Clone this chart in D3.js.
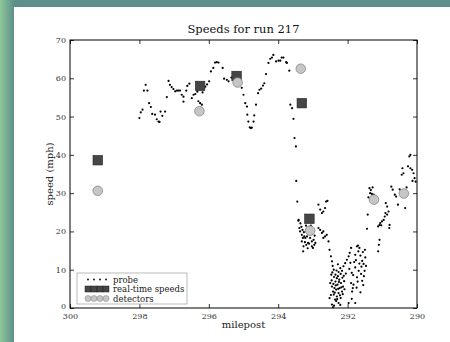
<!DOCTYPE html>
<html>
<head>
<meta charset="utf-8">
<script src="https://cdn.jsdelivr.net/npm/d3@7"></script>
<style>
  body { margin: 0; background: #fff; }
  svg { display: block; }
  text { font-family: "DejaVu Serif", "Liberation Serif", serif; }
</style>
</head>
<body>
<svg id="chart" width="450" height="342"></svg>
<script>
// probe samples: [milepost, speed]
const probe = [
  [298.0, 49.6], [297.96, 51.1], [297.91, 51.8], [297.87, 56.8], [297.82, 58.3], [297.77, 56.8],
  [297.72, 53.5], [297.67, 52.5], [297.63, 50.7], [297.55, 50.5], [297.5, 49.3], [297.45, 48.7],
  [297.42, 48.6], [297.39, 51.3], [297.34, 50.2], [297.26, 51.3], [297.21, 55.1], [297.16, 59.3],
  [297.12, 58.3], [297.07, 57.7], [297.02, 57.2], [296.97, 56.6], [296.92, 56.8], [296.88, 56.8],
  [296.83, 56.8], [296.78, 55.7], [296.73, 55.2], [296.73, 53.9], [296.65, 56.8], [296.62, 58.0],
  [296.56, 58.6], [296.49, 54.8], [296.44, 55.7], [296.39, 55.9], [296.33, 56.5], [296.3, 54.0],
  [296.25, 53.5], [296.2, 53.1], [296.18, 56.3], [296.1, 57.8], [296.05, 58.4],
  [295.99, 59.2], [295.94, 61.8], [295.87, 62.7], [295.82, 64.1], [295.77, 64.2], [295.72, 64.1],
  [295.6, 62.7], [295.56, 59.9], [295.48, 59.6], [295.43, 59.2], [295.35, 60.2], [295.25, 60.5],
  [295.2, 61.5], [295.05, 57.5], [295.0, 55.7], [294.95, 53.5], [294.9, 52.6], [294.89, 50.5],
  [294.86, 48.7], [294.82, 47.2], [294.79, 47.0], [294.76, 47.1], [294.71, 48.7], [294.69, 50.3],
  [294.64, 53.1], [294.58, 56.1], [294.54, 57.0], [294.49, 57.3], [294.44, 58.1], [294.4, 58.7],
  [294.35, 61.1], [294.28, 64.0], [294.23, 65.1], [294.18, 65.4], [294.14, 66.1], [294.06, 64.4],
  [293.99, 64.6], [293.94, 64.6], [293.9, 65.4], [293.85, 65.4], [293.77, 64.2], [293.75, 64.0],
  [293.68, 62.0], [293.65, 53.1], [293.6, 52.2], [293.56, 49.4], [293.53, 44.4], [293.49, 42.2],
  [293.48, 33.2], [293.45, 27.8], [293.42, 22.8], [293.41, 23.0], [293.39, 20.9], [293.37, 20.0],
  [293.32, 19.1], [293.29, 18.3], [293.25, 18.7], [293.22, 18.3], [293.17, 18.7], [293.27, 16.1],
  [293.32, 17.4], [293.08, 18.3], [293.03, 17.4], [292.98, 17.8], [292.96, 16.5], [292.93, 17.0],
  [293.0, 15.7], [293.03, 16.1], [293.14, 17.0], [293.2, 21.5], [293.12, 19.6],
  [293.36, 22.1], [293.33, 21.2], [293.3, 20.4], [293.26, 19.8], [293.23, 17.2], [293.19, 16.5],
  [293.15, 15.6], [293.11, 16.8], [293.06, 21.5], [293.02, 19.4], [292.99, 20.1], [293.28, 14.8],
  [293.18, 20.3], [292.95, 18.9],
  [292.84, 27.0], [292.79, 25.7], [292.74, 24.8], [292.7, 25.2], [292.65, 26.1], [292.62, 27.8],
  [292.58, 28.0], [292.84, 20.9], [292.79, 20.4], [292.74, 19.6], [292.7, 20.0], [292.65, 18.7],
  [292.6, 19.1], [292.7, 18.3], [292.55, 17.4], [292.52, 15.2], [292.48, 13.5], [292.45, 12.2],
  [292.4, 10.0], [292.35, 8.7], [292.31, 7.8], [292.26, 9.4], [292.21, 10.4], [292.16, 9.7],
  [292.12, 10.9], [292.07, 11.7], [292.02, 12.6], [291.97, 13.5], [291.94, 14.4], [291.9, 15.7],
  [291.73, 16.1], [291.69, 14.8], [291.78, 13.9],
  [292.5, 6.5], [292.45, 5.6], [292.42, 4.3], [292.4, 3.5], [292.35, 6.9], [292.33, 4.8],
  [292.29, 6.1], [292.26, 3.9], [292.23, 5.2], [292.19, 6.5], [292.16, 4.3], [292.13, 5.6],
  [292.52, 2.6], [292.45, 0.9], [292.42, 0.2], [292.26, 1.3], [292.38, 5.2], [292.31, 3.0],
  [292.24, 7.4], [292.2, 2.6], [292.36, 2.2], [292.28, 8.3], [292.1, 7.0], [292.47, 8.7],
  [292.48, 3.4], [292.46, 7.2], [292.44, 9.3], [292.41, 6.3], [292.39, 8.1], [292.37, 4.0],
  [292.34, 5.9], [292.32, 9.8], [292.3, 2.3], [292.27, 5.0], [292.25, 6.8], [292.22, 3.3],
  [292.2, 8.9], [292.18, 5.4], [292.15, 7.9], [292.14, 3.6], [292.11, 8.4], [292.09, 4.9],
  [292.33, 1.8], [292.21, 0.8], [292.39, 0.6], [292.28, 11.4], [292.43, 11.0], [292.05, 9.0],
  [291.9, 6.5], [291.87, 4.3], [291.83, 6.1], [291.85, 5.2], [291.97, 1.3], [291.78, 1.3],
  [291.95, 10.2], [291.92, 11.8], [291.88, 9.2], [291.84, 8.6], [291.81, 12.0], [291.76, 12.5],
  [291.74, 5.3], [291.71, 6.9], [291.66, 11.6], [291.61, 8.9], [291.55, 6.0], [291.53, 8.3],
  [291.47, 11.0], [291.5, 15.2], [291.88, 2.4],
  [291.7, 16.3], [291.63, 13.7], [291.58, 12.3], [291.54, 11.5], [291.49, 13.2], [291.51, 9.7],
  [291.58, 7.1], [291.63, 4.1], [291.68, 9.7], [291.73, 8.0], [291.78, 10.6], [291.66, 15.7],
  [291.6, 10.8], [291.56, 14.6],
  [291.12, 14.8], [291.1, 16.5], [291.08, 17.8], [291.44, 20.7], [291.42, 24.4], [291.37, 31.3],
  [291.35, 30.0], [291.3, 29.8], [291.25, 29.6], [291.33, 30.8], [291.28, 31.5], [291.4, 28.9],
  [291.12, 21.3], [291.08, 21.7], [291.06, 22.2],
  [291.03, 21.6], [291.01, 22.6], [290.96, 23.0], [290.93, 23.9], [290.91, 24.8], [290.86, 24.4],
  [290.82, 25.2], [290.79, 21.7], [290.8, 20.9], [290.9, 27.4], [290.86, 26.5], [290.74, 31.7],
  [290.7, 30.9], [290.64, 29.6], [290.6, 29.1], [290.55, 27.0], [290.34, 26.1], [290.44, 34.8],
  [290.39, 35.2], [290.42, 36.5], [290.26, 37.0], [290.19, 36.5], [290.14, 36.1], [290.1, 35.2],
  [290.07, 33.9], [290.04, 33.0], [290.22, 39.6], [290.19, 40.0], [290.13, 33.2], [290.5, 31.0],
  [290.3, 31.5]
];

const rtMile = [299.2, 296.25, 295.2, 293.32, 293.1];
const rtSpeed = [38.6, 58.0, 60.6, 53.5, 23.3];

const detMile = [299.2, 296.27, 295.17, 293.35, 293.08, 291.24, 290.38];
const detSpeed = [30.6, 51.4, 58.9, 62.5, 20.2, 28.3, 29.9];

const xTicks = [300, 298, 296, 294, 292, 290];
const yTicks = [0, 10, 20, 30, 40, 50, 60, 70];
const legendLabels = ['probe', 'real-time speeds', 'detectors'];

const svg = d3.select('#chart');

// window frame
svg.append('rect').attr('width', 450).attr('height', 342).attr('fill', '#5d908b');
const grad = svg.append('defs').append('linearGradient').attr('id', 'side');
grad.append('stop').attr('offset', '0%').attr('stop-color', '#8fc79a');
grad.append('stop').attr('offset', '100%').attr('stop-color', '#5d908b');
svg.append('rect').attr('x', 0).attr('y', 0).attr('width', 14).attr('height', 342).attr('fill', 'url(#side)');
svg.append('rect').attr('x', 14).attr('y', 7).attr('width', 436).attr('height', 335).attr('fill', '#fff');

const mLeft = 70, mRight = 417, mTop = 40, mBottom = 308;
const x = d3.scaleLinear().domain([300, 290]).range([mLeft, mRight]);
const y = d3.scaleLinear().domain([0, 70]).range([mBottom, mTop]);

const g = svg.append('g');

// probe dots
g.selectAll('circle.probe')
  .data(probe)
  .join('circle')
  .attr('class', 'probe')
  .attr('cx', d => x(d[0]))
  .attr('cy', d => y(d[1]))
  .attr('r', 1.1)
  .attr('fill', '#000');

// real-time squares
const sq = 9.5;
g.selectAll('rect.rt')
  .data(rtMile)
  .join('rect')
  .attr('class', 'rt')
  .attr('x', d => x(d) - sq / 2)
  .attr('y', (d, i) => y(rtSpeed[i]) - sq / 2)
  .attr('width', sq)
  .attr('height', sq)
  .attr('fill', '#464646')
  .attr('stroke', '#222')
  .attr('stroke-width', 0.6);

// detectors
g.selectAll('circle.det')
  .data(detMile)
  .join('circle')
  .attr('class', 'det')
  .attr('cx', d => x(d))
  .attr('cy', (d, i) => y(detSpeed[i]))
  .attr('r', 4.8)
  .attr('fill', '#c6c6c6')
  .attr('stroke', '#7a7a7a')
  .attr('stroke-width', 0.7);

// axes (ticks inside, on all four sides)
const axisStyle = sel => {
  sel.select('.domain').remove();
  sel.selectAll('line').attr('stroke', '#000').attr('stroke-width', 0.8);
  sel.selectAll('text').attr('font-family', '"DejaVu Serif", serif').attr('font-size', 8).attr('fill', '#333');
};
svg.append('g').attr('transform', `translate(0,${mBottom})`)
  .call(d3.axisBottom(x).tickValues(xTicks).tickSizeInner(-4).tickPadding(5).tickFormat(d3.format('d')))
  .call(axisStyle);
svg.append('g').attr('transform', `translate(0,${mTop})`)
  .call(d3.axisTop(x).tickValues(xTicks).tickSizeInner(-4).tickFormat(''))
  .call(axisStyle);
svg.append('g').attr('transform', `translate(${mLeft},0)`)
  .call(d3.axisLeft(y).tickValues(yTicks).tickSizeInner(-4).tickPadding(4).tickFormat(d3.format('d')))
  .call(axisStyle)
  .call(sel => sel.selectAll('text').filter(d => d === 0).attr('dy', '0.1em'));
svg.append('g').attr('transform', `translate(${mRight},0)`)
  .call(d3.axisRight(y).tickValues(yTicks).tickSizeInner(-4).tickFormat(''))
  .call(axisStyle);

svg.append('rect')
  .attr('x', mLeft).attr('y', mTop)
  .attr('width', mRight - mLeft).attr('height', mBottom - mTop)
  .attr('fill', 'none').attr('stroke', '#000').attr('stroke-width', 1);

// title & labels
svg.append('text').attr('x', (mLeft + mRight) / 2).attr('y', 33)
  .attr('text-anchor', 'middle').attr('font-size', 11.5).attr('fill', '#111')
  .text('Speeds for run 217');
svg.append('text').attr('x', (mLeft + mRight) / 2).attr('y', 328)
  .attr('text-anchor', 'middle').attr('font-size', 10).attr('fill', '#222')
  .text('milepost');
svg.append('text').attr('transform', `translate(53,${(mTop + mBottom) / 2}) rotate(-90)`)
  .attr('text-anchor', 'middle').attr('font-size', 10).attr('fill', '#222')
  .text('speed (mph)');

// legend
const lg = svg.append('g').attr('transform', 'translate(77,273)');
lg.append('rect').attr('width', 110).attr('height', 31)
  .attr('fill', '#fff').attr('stroke', '#aaa').attr('stroke-width', 0.8);
const rowY = [6.5, 16, 25.5];
const markX = [11, 17, 23, 29];
lg.selectAll('circle.lp').data(markX).join('circle')
  .attr('class', 'lp')
  .attr('cx', d => d).attr('cy', rowY[0]).attr('r', 0.9).attr('fill', '#000');
lg.selectAll('rect.lr').data(markX).join('rect')
  .attr('class', 'lr')
  .attr('x', d => d - 3).attr('y', rowY[1] - 3).attr('width', 6).attr('height', 6)
  .attr('fill', '#464646').attr('stroke', '#222').attr('stroke-width', 0.5);
lg.selectAll('circle.ld').data(markX).join('circle')
  .attr('class', 'ld')
  .attr('cx', d => d).attr('cy', rowY[2]).attr('r', 3)
  .attr('fill', '#c6c6c6').attr('stroke', '#7a7a7a').attr('stroke-width', 0.5);
lg.selectAll('text.lt').data(legendLabels).join('text')
  .attr('class', 'lt')
  .attr('x', 36).attr('y', (d, i) => rowY[i] + 3)
  .attr('font-size', 8.5).attr('fill', '#222')
  .text(d => d);
</script>
</body>
</html>
